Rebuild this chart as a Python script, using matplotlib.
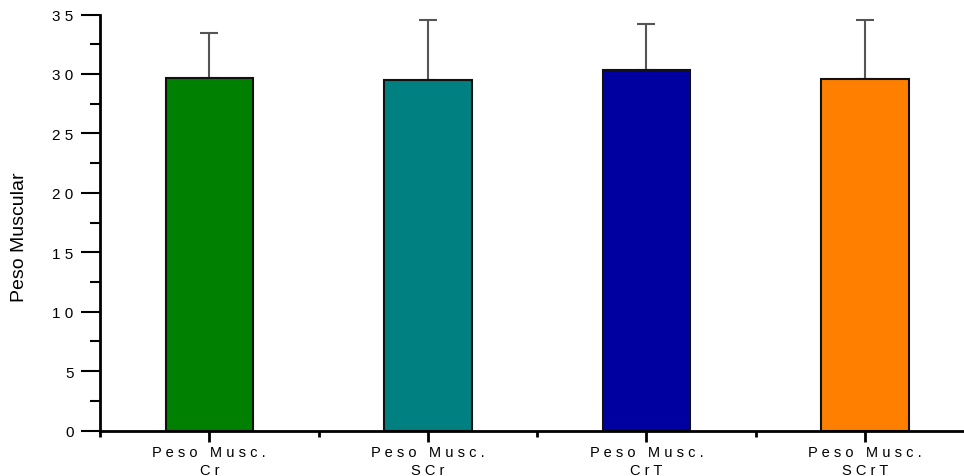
import matplotlib
matplotlib.use("Agg")
import matplotlib.pyplot as plt
from matplotlib.ticker import MultipleLocator, FixedLocator
import numpy as np

categories = ["Peso Musc.\nCr", "Peso Musc.\nSCr", "Peso Musc.\nCrT", "Peso Musc.\nSCrT"]
means = [29.68, 29.46, 30.36, 29.55]
errors = [3.76, 5.07, 3.86, 4.98]
colors = ["#008000", "#008080", "#0000A0", "#FF8000"]
y_ticks = [0, 5, 10, 15, 20, 25, 30, 35]
y_label = "Peso Muscular"


def spaced(text):
    # widen letter spacing the way the original software renders it
    return "\n".join(" ".join(list(line)) for line in text.split("\n"))


plt.rcParams["font.family"] = ["Liberation Sans", "DejaVu Sans"]

fig = plt.figure(figsize=(9.64, 4.77), dpi=100)
ax = fig.add_axes([100 / 964, 45.5 / 477, 863 / 964, 416 / 477])

x = np.arange(1, len(categories) + 1)
ax.bar(x, means, width=0.4, color=colors, edgecolor="#111111", linewidth=1.5, zorder=2)
ax.errorbar(x, means, yerr=[np.zeros(len(errors)), errors], fmt="none",
            ecolor="#555555", elinewidth=1.5, capsize=6.5, capthick=1.5, zorder=1)

ax.set_xlim(0.5, 4.449)
ax.set_ylim(0, 35)

ax.spines["top"].set_visible(False)
ax.spines["right"].set_visible(False)
ax.spines["left"].set_linewidth(2)
ax.spines["bottom"].set_linewidth(2)

ax.set_xticks(x)
ax.set_xticklabels([spaced(c) for c in categories], fontsize=10.5, linespacing=1.35)
ax.xaxis.set_minor_locator(FixedLocator([0.5, 1.5, 2.5, 3.5]))
ax.tick_params(axis="x", which="major", direction="out", length=8, width=2, pad=2.5)
ax.tick_params(axis="x", which="minor", direction="out", length=4, width=2)

ax.set_yticks(y_ticks)
ax.set_yticklabels([spaced(str(t)) for t in y_ticks], fontsize=11)
ax.yaxis.set_minor_locator(MultipleLocator(2.5))
ax.tick_params(axis="y", which="major", direction="out", length=14, width=1.5, pad=5)
ax.tick_params(axis="y", which="minor", direction="out", length=7, width=1.5)

ax.set_ylabel(y_label, fontsize=14)
ax.yaxis.set_label_coords(-0.084, 0.466)

fig.savefig("out.png", dpi=100)
